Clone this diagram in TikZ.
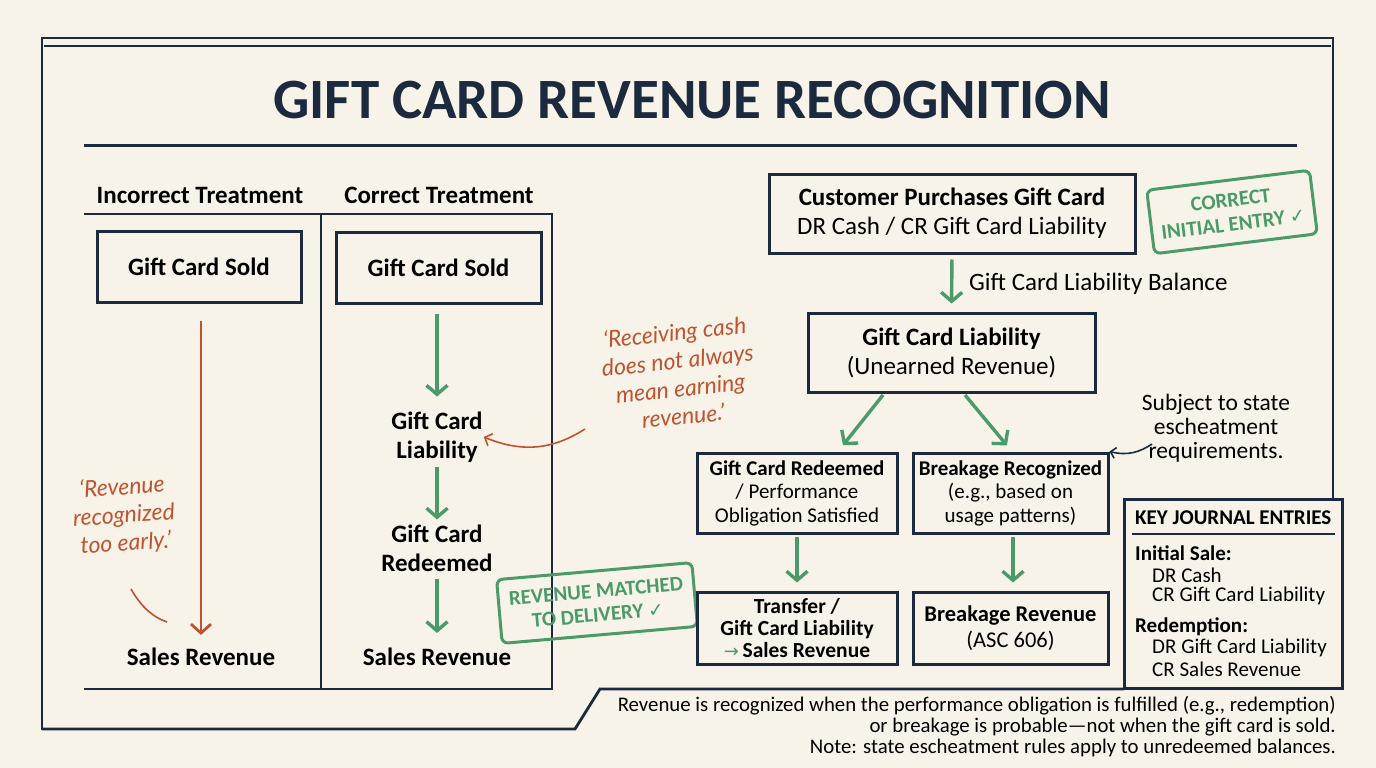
\documentclass[tikz,border=0pt]{standalone}
\usepackage{fontspec}
\setmainfont{Carlito}
\newfontfamily\symfont{DejaVu Sans}
\newfontfamily\handfont{Lato}[ItalicFont=* Italic]
\usetikzlibrary{arrows.meta}
\definecolor{cream}{HTML}{F7F3E8}
\definecolor{navy}{HTML}{1B2A3F}
\definecolor{sgreen}{HTML}{4A9A6A}
\definecolor{rust}{HTML}{C0532F}
\begin{document}
\begin{tikzpicture}[x=1pt,y=-1pt,
  frame/.style={draw=navy,line width=2.8pt},
  thinrule/.style={draw=navy,line width=2.2pt},
  boxnode/.style={draw=navy,line width=3pt,fill=cream,align=center,text=black,inner sep=2pt},
  plain/.style={align=center,text=black,inner sep=1pt},
  garrow/.style={draw=sgreen,line width=3.4pt,-{Straight Barb[length=9pt,width=21pt,line width=3.4pt]}},
  rarrow/.style={draw=rust,line width=2.8pt,-{Straight Barb[length=9pt,width=20pt,line width=2.8pt]}},
  hand/.style={text=rust,align=center,font=\handfont\itshape\fontsize{23}{28}\selectfont},
  stamp/.style={draw=sgreen,line width=3pt,rounded corners=6pt,text=sgreen,align=center,font=\bfseries\fontsize{21}{24}\selectfont,inner xsep=8pt,inner ysep=6pt},
]
\fill[cream] (0,0) rectangle (1376,768);
% outer frame
\draw[frame] (42,730) -- (42,38) -- (1333,38) -- (1333,499);
\draw[navy,line width=1.8pt] (44,46) -- (1331,46);
\draw[frame] (42,729) -- (575,729) -- (600,689) -- (1124,689);
% title
\node[text=navy,font=\bfseries\fontsize{57}{57}\selectfont] (title) at (692,100) {GIFT CARD REVENUE RECOGNITION};
\draw[navy,line width=3pt] (84,145) -- (1297,145);
% left table
\node[plain,font=\bfseries\fontsize{25}{25}\selectfont] (hinc) at (200,195) {Incorrect Treatment};
\node[plain,font=\bfseries\fontsize{25}{25}\selectfont] (hcor) at (439,195) {Correct Treatment};
\draw[thinrule] (84,214) -- (552,214) -- (552,689) -- (84,689);
\draw[thinrule] (321,214) -- (321,689);
\node[boxnode,minimum width=204pt,minimum height=71pt,font=\bfseries\fontsize{25}{25}\selectfont] (lsold) at (199,267) {Gift Card Sold};
\node[boxnode,minimum width=205pt,minimum height=71pt,font=\bfseries\fontsize{25}{25}\selectfont] (rsold) at (438.5,267.5) {Gift Card Sold};
\node[plain,font=\bfseries\fontsize{25}{25}\selectfont] (lsales) at (201,657) {Sales Revenue};
\node[plain,font=\bfseries\fontsize{25}{25}\selectfont] (rsales) at (437,657) {Sales Revenue};
\node[plain,font=\bfseries\fontsize{25}{29}\selectfont] (rliab) at (437,437) {Gift Card\\Liability};
\node[plain,font=\bfseries\fontsize{25}{29}\selectfont] (rred) at (437,548) {Gift Card\\Redeemed};
\draw[rarrow,shorten <=17pt,shorten >=12pt] (lsold.south -| lsales.north) -- (lsales.north);
\draw[garrow,shorten <=9pt,shorten >=14pt] (rsold.south -| rliab.north) -- (rliab.north);
\draw[garrow,shorten <=4pt,shorten >=4pt] (rliab.south) -- (rred.north);
\draw[garrow,shorten <=6pt,shorten >=14pt] (rred.south) -- (rsales.north);
% notes
\node[hand,rotate=4] (note1) at (124,516) {‘Revenue\\recognized\\too early.’};
\coordinate (n1a) at (131,589);
\coordinate (n1b) at (167,622);
\draw[rust,line width=1.6pt] (n1a) .. controls (140,605) and (152,617) .. (n1b);
\node[hand,rotate=6] (note2) at (679,374) {‘Receiving cash\\does not always\\mean earning\\revenue.’};
\coordinate (n2a) at (585,429);
\draw[rust,line width=1.6pt,-{Straight Barb[length=6pt,width=13pt,line width=1.6pt]}] (n2a) .. controls (555,448) and (525,454) .. (rliab.east);
% stamps
\node[stamp,rotate=5,minimum width=196pt,minimum height=64pt] (stamp1) at (597,603) {REVENUE MATCHED\\TO DELIVERY {\symfont\fontsize{19}{19}\selectfont ✓}};
\node[stamp,rotate=7,minimum width=164pt,minimum height=64pt] (stamp2) at (1232,212) {CORRECT\\INITIAL ENTRY {\symfont\fontsize{19}{19}\selectfont ✓}};
% right flow
\node[boxnode,minimum width=366pt,minimum height=79pt,font=\fontsize{25}{29}\selectfont] (cust) at (952,213.5) {\textbf{Customer Purchases Gift Card}\\DR Cash / CR Gift Card Liability};
\node[boxnode,minimum width=287pt,minimum height=79pt,font=\fontsize{25}{29}\selectfont] (gcl) at (951.5,352.5) {\textbf{Gift Card Liability}\\(Unearned Revenue)};
\draw[garrow,shorten <=5pt,shorten >=8pt] (cust.south) -- (gcl.north);
\node[plain,anchor=west,font=\fontsize{25}{25}\selectfont] (bal) at (968,284) {Gift Card Liability Balance};
\node[boxnode,minimum width=200pt,minimum height=80pt,font=\fontsize{21}{23.5}\selectfont] (redeem) at (797,493) {\textbf{Gift Card Redeemed}\\/ Performance\\Obligation Satisfied};
\node[boxnode,minimum width=195pt,minimum height=80pt,font=\fontsize{21}{23.5}\selectfont] (break) at (1010.5,493) {\textbf{Breakage Recognized}\\(e.g., based on\\usage patterns)};
\node[boxnode,minimum width=200pt,minimum height=72pt,font=\fontsize{21.5}{22}\selectfont] (transfer) at (797,628) {\textbf{Transfer /}\\\textbf{Gift Card Liability}\\{\color{sgreen}\symfont\fontsize{18}{18}\selectfont →}\,\textbf{Sales Revenue}};
\node[boxnode,minimum width=195pt,minimum height=72pt,font=\fontsize{22.5}{26}\selectfont] (brev) at (1010.5,628) {\textbf{Breakage Revenue}\\(ASC 606)};
\coordinate (g1) at (883,395);
\coordinate (g2) at (965,395);
\draw[garrow,shorten >=8pt] (g1) -- (redeem.north -| 838,0);
\draw[garrow,shorten >=8pt] (g2) -- (break.north -| 1012,0);
\draw[garrow,shorten <=2pt,shorten >=8pt] (redeem.south) -- (transfer.north);
\draw[garrow,shorten <=2pt,shorten >=8pt] (break.south -| 1013,0) -- (brev.north -| 1013,0);
% escheatment
\node[plain,font=\fontsize{23.5}{24}\selectfont] (esch) at (1216,428) {Subject to state\\escheatment\\requirements.};
\coordinate (ea) at (1152,444);
\draw[navy,line width=1.6pt,-{Straight Barb[length=5pt,width=11pt,line width=1.6pt]}] (ea) .. controls (1140,452) and (1128,456) .. (break.north east);
% key box
\node[draw=navy,line width=3pt,fill=cream,minimum width=218pt,minimum height=189pt] (key) at (1233,593.5) {};
\node[anchor=west,inner sep=0pt,text=black,font=\bfseries\fontsize{21}{21}\selectfont] (khead) at (1135,518) {KEY JOURNAL ENTRIES};
\draw[navy,line width=2pt] (1132,534) -- (1335,534);
\node[anchor=west,inner sep=0pt,font=\bfseries\fontsize{21}{21}\selectfont] (k1) at (1135,553) {Initial Sale:};
\node[anchor=west,inner sep=0pt,font=\fontsize{21}{21}\selectfont] (k2) at (1152,575) {DR Cash};
\node[anchor=west,inner sep=0pt,font=\fontsize{21}{21}\selectfont] (k3) at (1152,596) {CR Gift Card Liability};
\node[anchor=west,inner sep=0pt,font=\bfseries\fontsize{21}{21}\selectfont] (k4) at (1135,627) {Redemption:};
\node[anchor=west,inner sep=0pt,font=\fontsize{21}{21}\selectfont] (k5) at (1152,648) {DR Gift Card Liability};
\node[anchor=west,inner sep=0pt,font=\fontsize{21}{21}\selectfont] (k6) at (1152,669) {CR Sales Revenue};
% footer
\node[anchor=east,inner sep=0pt,font=\fontsize{20.8}{20.8}\selectfont] (f1) at (1336,706) {Revenue is recognized when the performance obligation is fulfilled (e.g., redemption)};
\node[anchor=east,inner sep=0pt,font=\fontsize{20.8}{20.8}\selectfont] (f2) at (1336,727) {or breakage is probable---not when the gift card is sold.};
\node[anchor=east,inner sep=0pt,font=\fontsize{20.8}{20.8}\selectfont] (f3) at (1336,748) {Note: state escheatment rules apply to unredeemed balances.};
\end{tikzpicture}
\end{document}
